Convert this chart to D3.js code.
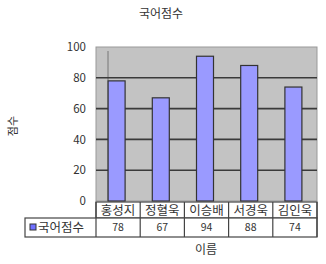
<!DOCTYPE html>
<html><head><meta charset="utf-8">
<script src="https://cdn.jsdelivr.net/npm/d3@7/dist/d3.min.js"></script>
<style>
body{margin:0;background:#fff;}
text{font-family:"Noto Sans CJK KR","Noto Sans",sans-serif;}
</style></head>
<body>
<svg id="c" width="326" height="264"></svg>
<script>
const categories = ["홍성지","정혈욱","이승배","서경욱","김인욱"];
const values = [78, 67, 94, 88, 74];
const yTicks = [0, 20, 40, 60, 80, 100];
const seriesName = "국어점수";
const chartTitle = "국어점수";
const xTitle = "이름";
const yTitle = "점수";

(function(){
const svg = d3.select("#c");
const pL = 96, pR = 317, pT = 47, pB = 201;
const x = d3.scaleBand().domain(categories).range([pL, pR]).paddingInner(0).paddingOuter(0);
const y = d3.scaleLinear().domain([0, 100]).range([pB, pT]);

// plot background
svg.append("rect").attr("x", pL).attr("y", pT).attr("width", pR-pL).attr("height", pB-pT)
  .attr("fill", "#c3c3c3").attr("stroke", "#999").attr("stroke-width", 1);
// side wall line
svg.append("line").attr("x1", pL+12).attr("x2", pL+12).attr("y1", pT+4).attr("y2", pB)
  .attr("stroke", "#777").attr("stroke-width", 1);

// gridlines
svg.append("g").selectAll("line").data(yTicks.filter(d => d > 0 && d < 100)).join("line")
  .attr("x1", pL).attr("x2", pR).attr("y1", d => y(d)).attr("y2", d => y(d))
  .attr("stroke", "#3a3a3a").attr("stroke-width", 1.6);

// y axis labels
const ya = svg.append("g").attr("transform", `translate(${pL-10},0)`)
  .call(d3.axisLeft(y).tickValues(yTicks).tickSize(0).tickPadding(0));
ya.select(".domain").remove();
ya.selectAll("text").attr("font-size", 11.5).attr("fill", "#333")
  .attr("font-family", "Liberation Sans, Arial, sans-serif");

// bars
const bw = 17;
svg.append("g").selectAll("rect").data(values).join("rect")
  .attr("x", (d, i) => x(categories[i]) + x.bandwidth()/2 - bw/2 - 1.5)
  .attr("y", d => y(d))
  .attr("width", bw)
  .attr("height", d => pB - y(d))
  .attr("fill", "#9a9aff").attr("stroke", "#333").attr("stroke-width", 1.2);

// table
const rowTop = 202, rowMid = 218, rowBot = 237, legLeft = 25;
const tg = svg.append("g");
tg.append("rect").attr("x", pL).attr("y", rowTop).attr("width", pR-pL).attr("height", rowMid-rowTop)
  .attr("fill", "#fff").attr("stroke", "#444").attr("stroke-width", 1.2);
tg.append("rect").attr("x", legLeft).attr("y", rowMid).attr("width", pR-legLeft).attr("height", rowBot-rowMid)
  .attr("fill", "#fff").attr("stroke", "#444").attr("stroke-width", 1.2);
tg.selectAll("line.sep").data(d3.range(categories.length + 1)).join("line").attr("class","sep")
  .attr("x1", i => pL + i * x.bandwidth()).attr("x2", i => pL + i * x.bandwidth())
  .attr("y1", rowTop).attr("y2", rowBot).attr("stroke", "#444").attr("stroke-width", 1.2);
tg.selectAll("text.cat").data(categories).join("text").attr("class","cat")
  .attr("x", d => x(d) + x.bandwidth()/2).attr("y", rowTop + 12.5)
  .attr("text-anchor", "middle").attr("font-size", 12.5).attr("fill", "#333").text(d => d);
tg.selectAll("text.val").data(values).join("text").attr("class","val")
  .attr("x", (d, i) => x(categories[i]) + x.bandwidth()/2).attr("y", rowMid + 13)
  .attr("text-anchor", "middle").attr("font-size", 10.5).attr("fill", "#333")
  .attr("font-family", "Liberation Sans, Arial, sans-serif").text(d => d);
// legend key
tg.append("rect").attr("x", 30).attr("y", rowMid + 6).attr("width", 6).attr("height", 6)
  .attr("fill", "#7070ff").attr("stroke", "#333").attr("stroke-width", 1);
tg.append("text").attr("x", 38).attr("y", rowMid + 13.5).attr("font-size", 12.5).attr("fill", "#333").text(seriesName);

// titles
svg.append("text").attr("x", 161).attr("y", 18).attr("text-anchor", "middle")
  .attr("font-size", 12).attr("fill", "#333").text(chartTitle);
svg.append("text").attr("x", 206).attr("y", 254).attr("text-anchor", "middle")
  .attr("font-size", 12).attr("fill", "#333").text(xTitle);
svg.append("text").attr("transform", "translate(17,126) rotate(-90)").attr("text-anchor", "middle")
  .attr("font-size", 11).attr("fill", "#333").text(yTitle);
})();
</script>
</body></html>
